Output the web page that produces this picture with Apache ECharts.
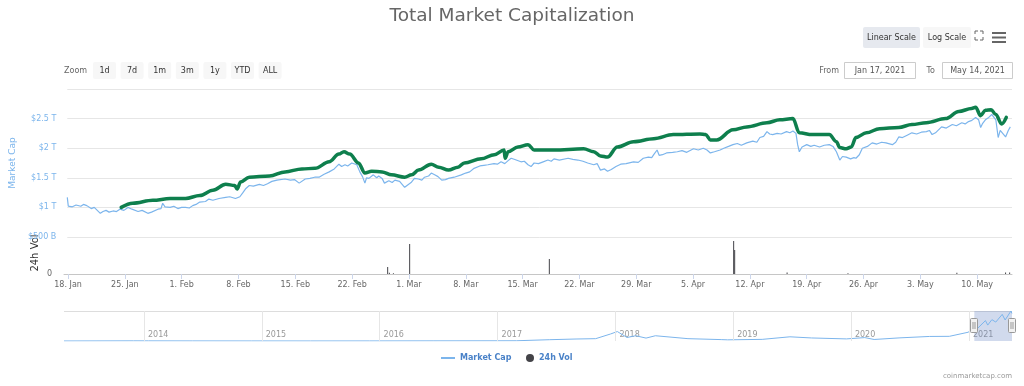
<!DOCTYPE html>
<html><head><meta charset="utf-8">
<script src="https://cdn.jsdelivr.net/npm/echarts@6/dist/echarts.min.js"></script>
<style>html,body{margin:0;padding:0;background:#fff}#c{width:1024px;height:386px}</style>
</head><body><div id="c"></div>
<script>
const FONT = '"DejaVu Sans", Verdana, sans-serif';
const monthNames = ['Jan','Feb','Mar','Apr','May','Jun','Jul','Aug','Sep','Oct','Nov','Dec'];

const viewStart = '2021-01-17 12:00';
const viewEnd = '2021-05-14 07:00';
const weekTicks = ['2021-01-18 00:00','2021-01-25 00:00','2021-02-01 00:00','2021-02-08 00:00','2021-02-15 00:00',
  '2021-02-22 00:00','2021-03-01 00:00','2021-03-08 00:00','2021-03-15 00:00','2021-03-22 00:00','2021-03-29 00:00',
  '2021-04-05 00:00','2021-04-12 00:00','2021-04-19 00:00','2021-04-26 00:00','2021-05-03 00:00','2021-05-10 00:00'];

// Market Cap (trillions USD)
const capDates = [
 '2021-01-17 12:00','2021-01-17 15:00','2021-01-17 20:00','2021-01-18 03:00','2021-01-18 14:00','2021-01-19 04:00','2021-01-19 12:00',
 '2021-01-19 22:00','2021-01-20 11:00','2021-01-20 20:00','2021-01-21 05:00','2021-01-21 14:00','2021-01-21 22:00','2021-01-22 07:00',
 '2021-01-22 16:00','2021-01-23 04:00','2021-01-23 14:00','2021-01-24 00:00','2021-01-24 12:00','2021-01-25 00:00','2021-01-25 12:00',
 '2021-01-26 06:00','2021-01-26 18:00','2021-01-27 11:00','2021-01-27 22:00','2021-01-28 17:00','2021-01-29 02:00','2021-01-29 07:00',
 '2021-01-29 14:00','2021-01-30 05:00','2021-01-30 16:00','2021-01-31 04:00','2021-01-31 15:00','2021-02-01 03:00','2021-02-01 14:00',
 '2021-02-02 00:00','2021-02-02 10:00','2021-02-02 21:00','2021-02-03 14:00','2021-02-04 00:00','2021-02-04 12:00','2021-02-05 06:00',
 '2021-02-06 02:00','2021-02-06 14:00','2021-02-07 07:00','2021-02-07 12:00','2021-02-07 20:00','2021-02-08 04:00','2021-02-08 14:00',
 '2021-02-09 00:00','2021-02-09 12:00','2021-02-10 06:00','2021-02-10 18:00','2021-02-11 06:00','2021-02-11 19:00','2021-02-12 10:00',
 '2021-02-13 10:00','2021-02-14 02:00','2021-02-14 14:00','2021-02-15 04:00','2021-02-15 22:00','2021-02-16 12:00','2021-02-17 02:00',
 '2021-02-17 15:00','2021-02-18 06:00','2021-02-18 21:00','2021-02-19 12:00','2021-02-20 02:00','2021-02-20 10:00','2021-02-20 20:00',
 '2021-02-21 04:00','2021-02-21 16:00','2021-02-22 07:00','2021-02-22 16:00','2021-02-23 00:00','2021-02-23 07:00','2021-02-23 12:00',
 '2021-02-23 19:00','2021-02-24 08:00','2021-02-24 18:00','2021-02-25 00:00','2021-02-25 10:00','2021-02-25 17:00','2021-02-26 06:00',
 '2021-02-26 16:00','2021-02-27 00:00','2021-02-27 14:00','2021-02-28 05:00','2021-02-28 14:00','2021-03-01 00:00','2021-03-01 10:00',
 '2021-03-01 22:00','2021-03-02 08:00','2021-03-02 16:00','2021-03-03 04:00','2021-03-03 12:00','2021-03-03 22:00','2021-03-04 08:00',
 '2021-03-04 19:00','2021-03-05 06:00','2021-03-05 15:00','2021-03-06 08:00','2021-03-07 05:00','2021-03-07 18:00','2021-03-08 06:00',
 '2021-03-08 19:00','2021-03-09 12:00','2021-03-10 00:00','2021-03-10 12:00','2021-03-11 06:00','2021-03-11 16:00','2021-03-12 03:00',
 '2021-03-12 14:00','2021-03-13 00:00','2021-03-13 09:00','2021-03-13 20:00','2021-03-14 14:00','2021-03-15 00:00','2021-03-15 11:00',
 '2021-03-15 20:00','2021-03-16 05:00','2021-03-16 18:00','2021-03-17 08:00','2021-03-17 22:00','2021-03-18 08:00','2021-03-18 16:00',
 '2021-03-19 08:00','2021-03-20 10:00','2021-03-21 00:00','2021-03-21 15:00','2021-03-22 06:00','2021-03-22 20:00','2021-03-23 14:00',
 '2021-03-24 00:00','2021-03-24 10:00','2021-03-24 22:00','2021-03-25 07:00','2021-03-25 18:00','2021-03-26 08:00','2021-03-26 22:00',
 '2021-03-27 14:00','2021-03-28 12:00','2021-03-29 02:00','2021-03-29 17:00','2021-03-30 08:00','2021-03-30 18:00','2021-03-31 00:00',
 '2021-03-31 10:00','2021-03-31 16:00','2021-04-01 02:00','2021-04-01 14:00','2021-04-02 08:00','2021-04-02 22:00','2021-04-03 12:00',
 '2021-04-04 02:00','2021-04-04 22:00','2021-04-05 12:00','2021-04-06 03:00','2021-04-06 14:00','2021-04-07 00:00','2021-04-07 12:00',
 '2021-04-08 05:00','2021-04-08 16:00','2021-04-09 06:00','2021-04-09 19:00','2021-04-10 08:00','2021-04-10 20:00','2021-04-11 12:00',
 '2021-04-12 06:00','2021-04-12 18:00','2021-04-13 03:00','2021-04-13 14:00','2021-04-14 00:00','2021-04-14 08:00','2021-04-14 17:00',
 '2021-04-15 06:00','2021-04-15 18:00','2021-04-16 10:00','2021-04-16 20:00','2021-04-17 05:00','2021-04-17 14:00','2021-04-17 19:00',
 '2021-04-18 00:00','2021-04-18 08:00','2021-04-18 22:00','2021-04-19 10:00','2021-04-19 20:00','2021-04-20 12:00','2021-04-21 02:00',
 '2021-04-21 17:00','2021-04-22 04:00','2021-04-22 14:00','2021-04-23 00:00','2021-04-23 08:00','2021-04-23 19:00','2021-04-24 08:00',
 '2021-04-24 18:00','2021-04-25 00:00','2021-04-25 10:00','2021-04-25 19:00','2021-04-26 10:00','2021-04-27 00:00','2021-04-27 14:00',
 '2021-04-28 04:00','2021-04-28 17:00','2021-04-29 12:00','2021-04-29 22:00','2021-04-30 07:00','2021-04-30 18:00','2021-05-01 08:00',
 '2021-05-01 22:00','2021-05-02 12:00','2021-05-03 02:00','2021-05-03 17:00','2021-05-04 02:00','2021-05-04 10:00','2021-05-04 20:00',
 '2021-05-05 14:00','2021-05-06 04:00','2021-05-06 22:00','2021-05-07 10:00','2021-05-08 02:00','2021-05-08 12:00','2021-05-08 22:00',
 '2021-05-09 08:00','2021-05-09 19:00','2021-05-10 04:00','2021-05-10 10:00','2021-05-10 16:00','2021-05-11 00:00','2021-05-11 10:00',
 '2021-05-11 19:00','2021-05-12 07:00','2021-05-12 14:00','2021-05-12 20:00','2021-05-13 00:00','2021-05-13 12:00','2021-05-13 20:00',
 '2021-05-14 02:00'];
const capValues = [
 1.17,1.02,1.04,1.01,1.04,1.02,1.05,
 1.03,0.98,1.00,0.95,0.90,0.93,0.95,
 0.92,0.94,0.93,0.97,0.95,1.00,0.97,
 0.93,0.95,0.90,0.92,0.97,0.98,1.07,
 1.01,1.00,1.02,0.98,1.00,1.00,0.99,
 1.03,1.05,1.09,1.10,1.14,1.12,1.15,
 1.17,1.18,1.15,1.12,1.18,1.24,1.32,
 1.37,1.36,1.39,1.37,1.40,1.44,1.46,
 1.48,1.46,1.47,1.41,1.48,1.49,1.51,
 1.51,1.56,1.60,1.65,1.73,1.69,1.72,
 1.70,1.75,1.72,1.60,1.52,1.41,1.50,
 1.49,1.55,1.50,1.53,1.49,1.41,1.45,
 1.42,1.46,1.44,1.34,1.38,1.42,1.49,
 1.48,1.46,1.51,1.53,1.58,1.55,1.52,
 1.46,1.47,1.49,1.51,1.55,1.58,1.60,
 1.66,1.70,1.71,1.72,1.74,1.73,1.77,
 1.74,1.79,1.83,1.81,1.77,1.78,1.72,
 1.69,1.75,1.74,1.77,1.80,1.78,1.82,
 1.80,1.83,1.81,1.80,1.78,1.75,1.72,
 1.74,1.63,1.65,1.61,1.64,1.69,1.73,
 1.74,1.77,1.76,1.83,1.85,1.84,1.89,
 1.97,1.88,1.89,1.92,1.93,1.94,1.96,
 1.93,1.99,1.97,2.00,1.97,1.92,1.94,
 1.97,2.00,2.03,2.06,2.08,2.05,2.09,
 2.12,2.10,2.18,2.20,2.28,2.24,2.23,
 2.25,2.24,2.28,2.26,2.29,2.25,2.06,
 1.94,2.02,2.06,2.03,2.05,2.02,2.05,
 2.06,2.03,1.94,1.80,1.86,1.85,1.82,
 1.84,1.83,1.89,2.00,2.03,2.09,2.07,
 2.10,2.09,2.06,2.10,2.19,2.18,2.22,
 2.26,2.24,2.27,2.28,2.30,2.23,2.26,
 2.36,2.34,2.40,2.38,2.43,2.41,2.45,
 2.47,2.52,2.48,2.35,2.42,2.48,2.52,
 2.57,2.48,2.18,2.30,2.28,2.19,2.30,
 2.36];

// Hand-drawn green trend annotation (trillions USD)
const trendDates = ['2021-01-24 04:00','2021-01-25 14:00','2021-01-28 02:00','2021-01-30 05:00','2021-02-01 03:00','2021-02-02 21:00',
 '2021-02-04 12:00','2021-02-06 02:00','2021-02-07 05:00','2021-02-07 12:00','2021-02-07 22:00','2021-02-09 00:00','2021-02-11 12:00',
 '2021-02-13 10:00','2021-02-15 12:00','2021-02-17 03:00','2021-02-18 21:00','2021-02-20 02:00','2021-02-20 17:00','2021-02-21 10:00',
 '2021-02-22 12:00','2021-02-23 07:00','2021-02-24 03:00','2021-02-25 10:00','2021-02-26 14:00','2021-02-28 05:00','2021-03-01 02:00',
 '2021-03-01 22:00','2021-03-03 12:00','2021-03-04 10:00','2021-03-05 15:00','2021-03-06 19:00','2021-03-07 14:00','2021-03-09 16:00',
 '2021-03-11 07:00','2021-03-12 12:00','2021-03-12 15:00','2021-03-13 00:00','2021-03-14 05:00','2021-03-15 11:00','2021-03-16 05:00',
 '2021-03-18 16:00','2021-03-22 08:00','2021-03-23 14:00','2021-03-24 10:00','2021-03-25 07:00','2021-03-26 12:00','2021-03-28 12:00',
 '2021-03-31 00:00','2021-04-02 10:00','2021-04-05 17:00','2021-04-06 10:00','2021-04-07 00:00','2021-04-07 19:00','2021-04-09 19:00',
 '2021-04-11 12:00','2021-04-14 00:00','2021-04-15 14:00','2021-04-17 05:00','2021-04-18 00:00','2021-04-19 14:00','2021-04-21 17:00',
 '2021-04-22 14:00','2021-04-23 00:00','2021-04-23 19:00','2021-04-24 10:00','2021-04-25 00:00','2021-04-26 07:00','2021-04-27 22:00',
 '2021-04-30 07:00','2021-05-01 22:00','2021-05-03 17:00','2021-05-06 02:00','2021-05-07 17:00','2021-05-09 07:00','2021-05-09 19:00',
 '2021-05-10 10:00','2021-05-11 00:00','2021-05-11 17:00','2021-05-12 07:00','2021-05-13 00:00','2021-05-13 14:00'];
const trendValues = [1.00,1.07,1.12,1.15,1.15,1.20,1.29,1.39,1.37,1.31,1.43,1.51,1.53,1.60,1.65,1.66,1.77,1.90,1.94,1.90,
 1.75,1.58,1.61,1.60,1.55,1.51,1.55,1.63,1.73,1.68,1.63,1.68,1.75,1.82,1.89,1.97,1.83,1.94,2.02,2.06,1.97,
 1.97,1.99,1.94,1.87,1.85,2.02,2.11,2.16,2.23,2.24,2.23,2.14,2.14,2.31,2.36,2.43,2.48,2.50,2.26,2.23,2.23,
 2.11,2.01,1.99,2.02,2.18,2.26,2.33,2.35,2.40,2.43,2.50,2.62,2.67,2.69,2.55,2.64,2.65,2.57,2.41,2.52];

// 24h Vol (billions USD)
const volDates = ['2021-02-26 09:00','2021-02-26 14:00','2021-02-27 02:00','2021-03-01 02:00','2021-03-18 07:00',
 '2021-04-10 00:00','2021-04-10 03:00','2021-04-16 14:00','2021-04-24 02:00','2021-05-07 12:00','2021-05-13 12:00','2021-05-14 00:00'];
const volValues = [70,12,8,300,150,330,240,14,8,12,15,15];

// Navigator: full-history market cap (trillions USD)
const navStart = '2013-04-28 00:00';
const navEnd = '2021-05-14 07:00';
const yearTicks = ['2014-01-01 00:00','2015-01-01 00:00','2016-01-01 00:00','2017-01-01 00:00',
 '2018-01-01 00:00','2019-01-01 00:00','2020-01-01 00:00','2021-01-01 00:00'];
const navDates = ['2013-04-28 00:00','2013-11-30 00:00','2014-01-15 00:00','2014-06-01 00:00','2014-12-01 00:00','2015-06-01 00:00',
 '2015-12-01 00:00','2016-06-15 00:00','2016-12-31 00:00','2017-03-01 00:00','2017-06-10 00:00','2017-09-01 00:00','2017-11-01 00:00',
 '2017-12-17 00:00','2018-01-07 00:00','2018-02-06 00:00','2018-03-05 00:00','2018-04-06 00:00','2018-05-05 00:00','2018-08-14 00:00',
 '2018-11-25 00:00','2018-12-15 00:00','2019-04-01 00:00','2019-06-26 00:00','2019-09-01 00:00','2019-12-18 00:00','2020-02-13 00:00',
 '2020-03-13 00:00','2020-06-01 00:00','2020-09-01 00:00','2020-11-01 00:00','2020-12-31 00:00','2021-01-08 00:00','2021-01-22 00:00',
 '2021-02-21 00:00','2021-02-28 00:00','2021-03-13 00:00','2021-03-25 00:00','2021-04-14 00:00','2021-04-23 00:00','2021-05-11 00:00',
 '2021-05-14 00:00'];
const navValues = [0.0016,0.014,0.011,0.008,0.005,0.004,0.006,0.013,0.018,0.022,0.11,0.17,0.2,0.6,0.81,0.3,0.45,0.25,0.45,0.2,
 0.12,0.1,0.14,0.36,0.26,0.18,0.29,0.13,0.27,0.39,0.4,0.76,1.1,0.93,1.75,1.36,1.83,1.62,2.28,1.8,2.57,2.36];

const rangeButtons = ['1d','7d','1m','3m','1y','YTD','ALL'];

function ts(s) {
  const [d, t] = s.split(' ');
  const [y, m, dd] = d.split('-').map(Number);
  const [h, mi] = (t || '00:00').split(':').map(Number);
  return new Date(y, m - 1, dd, h, mi).getTime();
}
function zip(dates, vals) { return dates.map((d, i) => [ts(d), vals[i]]); }
function longDate(s) { const d = new Date(ts(s)); return monthNames[d.getMonth()] + ' ' + d.getDate() + ', ' + d.getFullYear(); }

const chart = echarts.init(document.getElementById('c'), null, { renderer: 'canvas' });

function txt(x, y, text, opt) {
  return Object.assign({ type: 'text', x, y, silent: true,
    style: Object.assign({ text, fill: '#333', font: '8px ' + FONT, align: 'left', verticalAlign: 'middle' }, opt || {}) });
}
const baseGraphics = [];
baseGraphics.push(txt(64, 71, 'Zoom', { fill: '#666' }));
rangeButtons.forEach((b, i) => {
  const x = 93 + i * 27.6;
  baseGraphics.push({ type: 'rect', silent: true, shape: { x, y: 62, width: 23, height: 17, r: 2 }, style: { fill: '#f7f7f7' } });
  baseGraphics.push(txt(x + 11.5, 71, b, { align: 'center' }));
});
baseGraphics.push({ type: 'rect', silent: true, shape: { x: 863, y: 27, width: 57, height: 21, r: 2 }, style: { fill: '#e6e9ef' } });
baseGraphics.push(txt(891.5, 37.5, 'Linear Scale', { align: 'center' }));
baseGraphics.push({ type: 'rect', silent: true, shape: { x: 923, y: 27, width: 48, height: 21, r: 2 }, style: { fill: '#f7f7f7' } });
baseGraphics.push(txt(947, 37.5, 'Log Scale', { align: 'center' }));
const fs = [[[975,34],[975,31],[978,31]],[[980,31],[983,31],[983,34]],[[975,37],[975,40],[978,40]],[[980,40],[983,40],[983,37]]];
fs.forEach(p => baseGraphics.push({ type: 'polyline', silent: true, shape: { points: p }, style: { stroke: '#666', lineWidth: 1, fill: null } }));
[33, 37.5, 42].forEach(y => baseGraphics.push({ type: 'line', silent: true, shape: { x1: 992, y1: y, x2: 1006, y2: y }, style: { stroke: '#666', lineWidth: 2 } }));
baseGraphics.push(txt(839, 71, 'From', { fill: '#666', align: 'right' }));
baseGraphics.push({ type: 'rect', silent: true, shape: { x: 844.5, y: 62.5, width: 71, height: 16 }, style: { fill: '#fff', stroke: '#ccc', lineWidth: 1 } });
baseGraphics.push(txt(880, 71, longDate(viewStart.split(' ')[0] + ' 00:00'), { fill: '#555', align: 'center' }));
baseGraphics.push(txt(935, 71, 'To', { fill: '#666', align: 'right' }));
baseGraphics.push({ type: 'rect', silent: true, shape: { x: 942.5, y: 62.5, width: 70, height: 16 }, style: { fill: '#fff', stroke: '#ccc', lineWidth: 1 } });
baseGraphics.push(txt(977.5, 71, longDate(viewEnd), { fill: '#555', align: 'center' }));
baseGraphics.push({ type: 'text', x: 35, y: 253, rotation: Math.PI / 2, silent: true,
  style: { text: '24h Vol', fill: '#333', font: '10px ' + FONT, align: 'center', verticalAlign: 'middle' } });
baseGraphics.push({ type: 'line', silent: true, shape: { x1: 64, y1: 311.5, x2: 1012, y2: 311.5 }, style: { stroke: '#ddd', lineWidth: 1 } });
baseGraphics.push(txt(1012, 376, 'coinmarketcap.com', { fill: '#999', font: '7px ' + FONT, align: 'right' }));

const option = {
  animation: false,
  textStyle: { fontFamily: FONT },
  title: { text: 'Total Market Capitalization', left: 'center', top: 2,
    textStyle: { fontFamily: FONT, fontSize: 18.5, fontWeight: 'normal', color: '#666' } },
  legend: [
    { data: [{ name: 'Market Cap', icon: 'rect' }], left: 441, top: 354, padding: 0, itemWidth: 14, itemHeight: 2,
      selectedMode: false, textStyle: { fontFamily: FONT, fontSize: 8, fontWeight: 'bold', color: '#4a82c8' } },
    { data: [{ name: '24h Vol', icon: 'circle' }], left: 526, top: 354, padding: 0, itemWidth: 8, itemHeight: 8,
      selectedMode: false, textStyle: { fontFamily: FONT, fontSize: 8, fontWeight: 'bold', color: '#4a82c8' } }
  ],
  grid: [
    { left: 64, right: 12, top: 89, bottom: 149 },
    { left: 64, right: 12, top: 240, bottom: 112 },
    { left: 64, right: 12, top: 311, bottom: 45 }
  ],
  xAxis: [
    { type: 'value', gridIndex: 0, min: ts(viewStart), max: ts(viewEnd), show: false, splitLine: { show: false } },
    { type: 'value', gridIndex: 1, min: ts(viewStart), max: ts(viewEnd),
      axisLine: { lineStyle: { color: '#c6c6c6' } },
      axisTick: { customValues: weekTicks.map(ts), length: 5, lineStyle: { color: '#ccd6eb' } },
      axisLabel: { customValues: weekTicks.map(ts), color: '#666', fontSize: 8, margin: 7, fontFamily: FONT,
        showMinLabel: true, showMaxLabel: true,
        formatter: v => { const d = new Date(v); return d.getDate() + '. ' + monthNames[d.getMonth()]; } },
      splitLine: { show: false } },
    { type: 'value', gridIndex: 2, min: ts(navStart), max: ts(navEnd),
      axisLine: { show: false }, axisTick: { show: false }, splitLine: { show: false },
      axisLabel: { customValues: yearTicks.map(ts), inside: true, align: 'left', padding: [0, 0, 0, 4], margin: 2,
        color: '#999', fontSize: 8, fontFamily: FONT, formatter: v => String(new Date(v).getFullYear()) } }
  ],
  yAxis: [
    { type: 'value', gridIndex: 0, min: 0.5, max: 3, interval: 0.5,
      axisLine: { show: false }, axisTick: { show: false },
      splitLine: { lineStyle: { color: '#e6e6e6' } },
      axisLabel: { showMaxLabel: false, color: '#7cb5ec', fontSize: 8, margin: 11, fontFamily: FONT,
        formatter: v => v >= 1 ? '$' + v + ' T' : '$' + Math.round(v * 1000) + ' B' },
      name: 'Market Cap', nameLocation: 'middle', nameGap: 50,
      nameTextStyle: { color: '#7cb5ec', fontSize: 9, fontFamily: FONT } },
    { type: 'value', gridIndex: 1, min: 0, max: 340, interval: 340,
      axisLine: { show: false }, axisTick: { show: false }, splitLine: { show: false },
      axisLabel: { showMaxLabel: false, color: '#666', fontSize: 8, margin: 12, fontFamily: FONT } },
    { type: 'value', gridIndex: 2, min: 0, max: 'dataMax', show: false }
  ],
  series: [
    { name: 'Market Cap', type: 'line', xAxisIndex: 0, yAxisIndex: 0, data: zip(capDates, capValues),
      symbol: 'none', color: '#7cb5ec', lineStyle: { width: 1.2, color: '#7cb5ec' }, z: 3 },
    { name: 'trend', type: 'line', xAxisIndex: 0, yAxisIndex: 0, data: zip(trendDates, trendValues),
      symbol: 'none', smooth: 0.35, smoothMonotone: 'x', clip: false, color: '#0e7f4d',
      lineStyle: { width: 3.5, color: '#0e7f4d', cap: 'round', join: 'round' }, z: 5 },
    { name: '24h Vol', type: 'bar', xAxisIndex: 1, yAxisIndex: 1, data: zip(volDates, volValues),
      barWidth: 1, color: '#434348', itemStyle: { color: '#434348' } },
    { name: 'nav', type: 'line', xAxisIndex: 2, yAxisIndex: 2, data: zip(navDates, navValues),
      symbol: 'none', color: '#7cb5ec', lineStyle: { width: 1, color: '#7cb5ec' }, silent: true,
      markLine: { silent: true, symbol: ['none', 'none'], label: { show: false },
        lineStyle: { color: '#e6e6e6', type: 'solid', width: 1 },
        data: yearTicks.map(t => ({ xAxis: ts(t) })) },
      markArea: { silent: true, itemStyle: { color: 'rgba(102,133,194,0.3)' },
        data: [[{ xAxis: ts(viewStart) }, { xAxis: ts(viewEnd) }]] } }
  ],
  graphic: { elements: baseGraphics }
};
chart.setOption(option);

const handles = [];
[viewStart, viewEnd].forEach(s => {
  const px = Math.round(chart.convertToPixel({ xAxisIndex: 2 }, ts(s)));
  handles.push({ type: 'rect', silent: true, shape: { x: px - 3.5, y: 318.5, width: 7, height: 14, r: 1 },
    style: { fill: '#f2f2f2', stroke: '#999', lineWidth: 1 }, z: 10 });
  handles.push({ type: 'line', silent: true, shape: { x1: px - 1, y1: 322, x2: px - 1, y2: 329 }, style: { stroke: '#999', lineWidth: 1 }, z: 11 });
  handles.push({ type: 'line', silent: true, shape: { x1: px + 1, y1: 322, x2: px + 1, y2: 329 }, style: { stroke: '#999', lineWidth: 1 }, z: 11 });
});
chart.setOption({ graphic: { elements: baseGraphics.concat(handles) } });
</script>
</body></html>
